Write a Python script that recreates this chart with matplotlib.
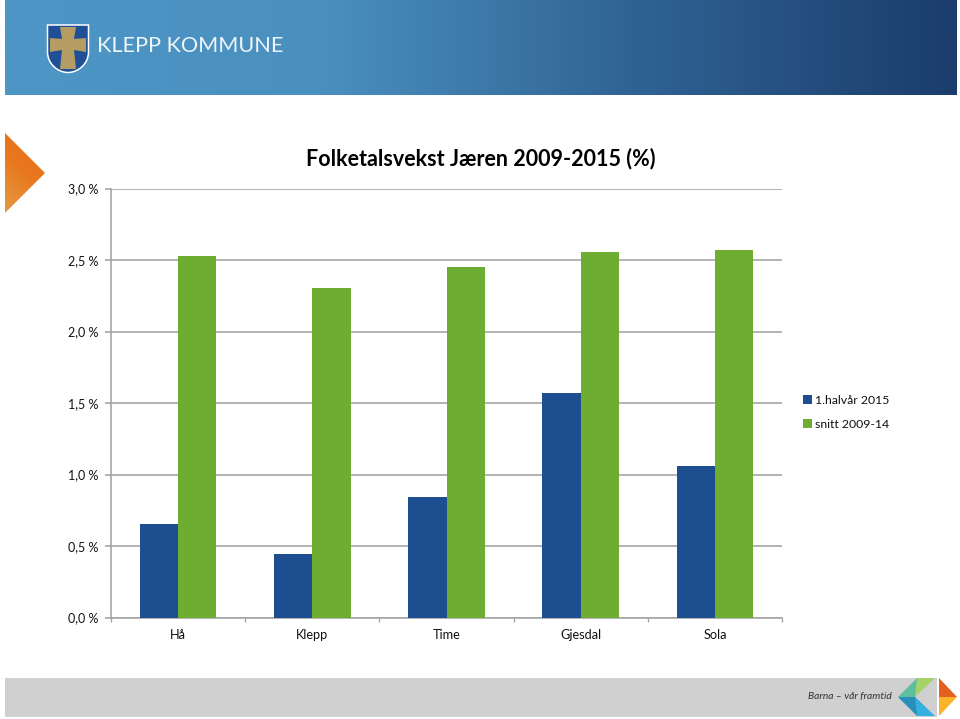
import numpy as np
import matplotlib
matplotlib.use("Agg")
import matplotlib.pyplot as plt
from matplotlib.patches import Polygon, Rectangle
from matplotlib.path import Path
from matplotlib.patches import PathPatch
from matplotlib.colors import LinearSegmentedColormap

categories = ["Hå", "Klepp", "Time", "Gjesdal", "Sola"]
halvar_2015 = [0.657, 0.444, 0.846, 1.57, 1.06]
snitt_0914 = [2.53, 2.304, 2.448, 2.556, 2.57]
series_names = ["1.halvår 2015", "snitt 2009-14"]
y_ticks = [0.0, 0.5, 1.0, 1.5, 2.0, 2.5, 3.0]
y_labels = ["0,0 %", "0,5 %", "1,0 %", "1,5 %", "2,0 %", "2,5 %", "3,0 %"]
title = "Folketalsvekst Jæren 2009-2015 (%)"

W, H = 960, 719
FONT = "Lato"
GREY = "#a6a6a6"
BLUE = "#1d4e8f"
GREEN = "#6fac32"
plt.rcParams["font.family"] = [FONT, "DejaVu Sans"]

fig = plt.figure(figsize=(W / 100, H / 100), dpi=100, facecolor="white")

# Pixel-space overlay for decoration
bg = fig.add_axes([0, 0, 1, 1], zorder=0)
bg.set_xlim(0, W); bg.set_ylim(H, 0); bg.axis("off")

def grad(ax, extent, colors, angle=0, clip=None):
    n = 256
    xx, yy = np.meshgrid(np.linspace(0, 1, n), np.linspace(0, 1, n))
    a = np.deg2rad(angle)
    z = xx * np.cos(a) + yy * np.sin(a)
    z = (z - z.min()) / (z.max() - z.min())
    im = ax.imshow(z, extent=extent, cmap=LinearSegmentedColormap.from_list("g", colors),
                   aspect="auto", zorder=1, interpolation="bilinear")
    if clip is not None:
        p = Polygon(clip, transform=ax.transData, fc="none", ec="none")
        ax.add_patch(p)
        im.set_clip_path(p)
    return im

# Header
grad(bg, (5, 957, 95.5, 1), ["#4d96c6", "#4a90bf", "#2f6294", "#1b3d6b"])
# Shield
shield = Path([(47.5, 25), (88.5, 25), (88.5, 52), (88.5, 64), (78, 72.5), (68, 72.5),
               (58, 72.5), (47.5, 64), (47.5, 52), (47.5, 25)],
              [Path.MOVETO, Path.LINETO, Path.LINETO, Path.CURVE4, Path.CURVE4, Path.CURVE4,
               Path.CURVE4, Path.CURVE4, Path.CURVE4, Path.CLOSEPOLY])
bg.add_patch(PathPatch(shield, fc="#1f4f97", ec="white", lw=1.1, zorder=3))
bg.add_patch(Polygon([(60, 27), (76, 27), (74, 39), (86, 38), (86, 52), (74, 50), (76, 69),
                      (60, 69), (62, 50), (50, 52), (50, 38), (62, 39)],
                     fc="#b49c62", ec="none", zorder=4))
bg.text(97, 46.5, "KLEPP KOMMUNE", color="#eef5fa", fontsize=15.6, va="center", ha="left",
        family="Lato", zorder=4)

# Orange triangle
grad(bg, (5, 45, 213, 133), ["#e59a45", "#e8791f", "#e8691a"], angle=-65,
     clip=[(5, 133), (45, 173), (5, 213)])

# Footer
bg.add_patch(Rectangle((5, 678), 932, 38.5, fc="#d0d0d0", ec="none", zorder=1))
bg.text(808, 697, "Barna – vår framtid", fontsize=7.4, style="italic", color="#333333",
        va="center", ha="left", zorder=3)
for pts, c in [
    ([(898, 697), (917, 678), (925, 678), (915, 697)], "#5fbda0"),
    ([(917, 678), (935, 678), (915, 697)], "#a4d36a"),
    ([(898, 697), (915, 697), (925, 707), (917, 716)], "#2a8fb8"),
    ([(915, 697), (935, 716), (917, 716)], "#35aee0"),
    ([(939, 678), (957, 697), (939, 697)], "#e4601f"),
    ([(939, 697), (957, 697), (939, 716)], "#fbb32c"),
]:
    bg.add_patch(Polygon(pts, fc=c, ec="none", zorder=3))
bg.set_xlim(0, W); bg.set_ylim(H, 0)

# Chart
L, R, T, B = 111, 782, 188.5, 617.5
ax = fig.add_axes([L / W, 1 - B / H, (R - L) / W, (B - T) / H], zorder=2)
ax.patch.set_alpha(0)
x = np.arange(len(categories))
bw = 0.285
ax.bar(x - bw / 2, halvar_2015, bw, color=BLUE, zorder=3, label=series_names[0])
ax.bar(x + bw / 2, snitt_0914, bw, color=GREEN, zorder=3, label=series_names[1])
ax.set_xlim(-0.5, len(categories) - 0.5)
ax.set_ylim(0, 3)
ax.set_yticks(y_ticks, y_labels)
ax.set_xticks(x, categories)
ax.set_xticks(np.arange(-0.5, len(categories)), minor=True)
ax.grid(axis="y", color=GREY, lw=1.2, zorder=1)
ax.set_axisbelow(True)
for s in ("top", "right"):
    ax.spines[s].set_visible(False)
for s in ("left", "bottom"):
    ax.spines[s].set_color(GREY); ax.spines[s].set_linewidth(1.2)
ax.tick_params(axis="x", which="major", length=0, labelsize=9.2, pad=8.5, labelcolor="#111111")
ax.tick_params(axis="x", which="minor", length=3, color=GREY, width=1)
ax.tick_params(axis="y", length=4, color=GREY, width=1.2, labelsize=9, pad=5, labelcolor="#111111")

fig.text(481 / W, 1 - 158.5 / H, title, fontsize=15.5, fontweight="bold", ha="center",
         va="center", color="black", zorder=5)

ax.legend(loc="upper left", bbox_to_anchor=((802.5 - L) / (R - L), 1 - (394.5 - T) / (B - T)),
          frameon=False, fontsize=8.8, handlelength=0.75, handleheight=0.75, handletextpad=0.3,
          labelspacing=1.11, borderpad=0, borderaxespad=0, labelcolor="#111111")

fig.savefig("out.png", dpi=100)
